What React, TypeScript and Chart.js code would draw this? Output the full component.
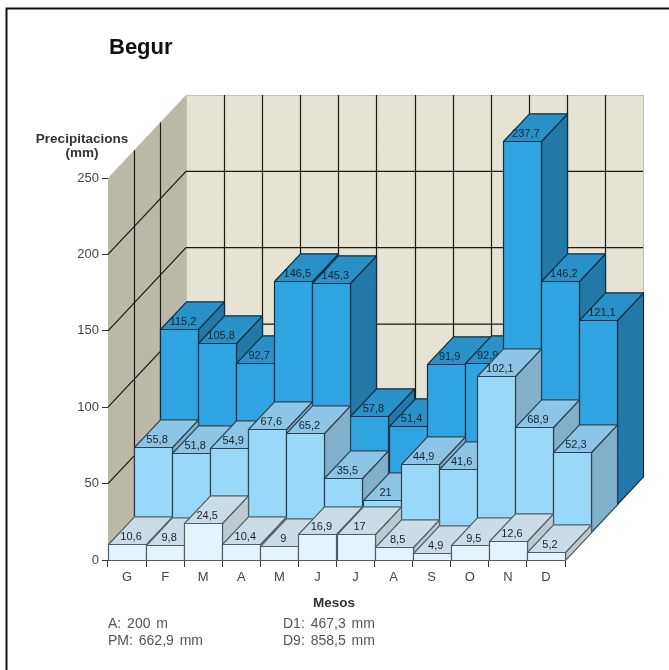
import React, { useEffect, useRef } from "react";
import { Chart, BarController, BarElement, registerables } from "chart.js";

// Monthly precipitation for Begur (mm): first decile, mean and ninth decile.
const months = ["G", "F", "M", "A", "M", "J", "J", "A", "S", "O", "N", "D"];
const decile1 = [10.6, 9.8, 24.5, 10.4, 9, 16.9, 17, 8.5, 4.9, 9.5, 12.6, 5.2];
const mean = [55.8, 51.8, 54.9, 67.6, 65.2, 35.5, 21, 44.9, 41.6, 102.1, 68.9, 52.3];
const decile9 = [115.2, 105.8, 92.7, 146.5, 145.3, 57.8, 51.4, 91.9, 92.9, 237.7, 146.2, 121.1];
const yTicks = { min: 0, max: 250, step: 50 };

// One depth row of the oblique projection, in canvas pixels.
const ROW_DX = 26;
const ROW_DY = 27.7;
const ROWS = 3;

const LABEL_FONT = '"Liberation Sans", Arial, sans-serif';
const crisp = (v: number) => Math.round(v) + 0.5;

// A bar element that paints a box: the front face plus top and right faces.
class Box3D extends BarElement {
  static id = "box3d";
  static defaults = { ...BarElement.defaults, row: 0, topColor: "#888", sideColor: "#666" };

  draw(ctx: CanvasRenderingContext2D) {
    const { x, y, base, width } = (this as any).getProps(["x", "y", "base", "width"]);
    const o = (this as any).options;
    const ox = o.row * ROW_DX;
    const oy = -o.row * ROW_DY;
    const l = crisp(x - width / 2 + ox);
    const r = crisp(x + width / 2 + ox);
    const t = crisp(y + oy);
    const b = crisp(base + oy);
    const face = (pts: number[][], fill: string) => {
      ctx.beginPath();
      pts.forEach(([px, py], i) => (i ? ctx.lineTo(px, py) : ctx.moveTo(px, py)));
      ctx.closePath();
      ctx.fillStyle = fill;
      ctx.fill();
      ctx.stroke();
    };
    ctx.save();
    ctx.strokeStyle = o.borderColor;
    ctx.lineWidth = 1.2;
    ctx.lineJoin = "round";
    face([[r, t], [r + ROW_DX, t - ROW_DY], [r + ROW_DX, b - ROW_DY], [r, b]], o.sideColor);
    face([[l, t], [l + ROW_DX, t - ROW_DY], [r + ROW_DX, t - ROW_DY], [r, t]], o.topColor);
    face([[l, t], [r, t], [r, b], [l, b]], o.backgroundColor);
    ctx.restore();
  }
}

class Bar3DController extends BarController {
  static id = "bar3d";
  static defaults = { ...BarController.defaults, dataElementType: "box3d" };
}

Chart.register(...registerables, Box3D, Bar3DController);

// Back and side walls with their grid, projected from the chart's own scales.
const wallsPlugin = {
  id: "walls",
  beforeDatasetsDraw(chart: any) {
    const { ctx, scales } = chart;
    const xs = scales.x;
    const ys = scales.y;
    const dx = ROW_DX * ROWS;
    const dy = ROW_DY * ROWS;
    const step = xs.getPixelForValue(1) - xs.getPixelForValue(0);
    const left = xs.getPixelForValue(0) - step / 2;
    const right = left + step * months.length;
    const top = ys.getPixelForValue(yTicks.max);
    const floor = ys.getPixelForValue(yTicks.min);
    ctx.save();
    ctx.fillStyle = "#BBB8A8";
    ctx.strokeStyle = "#A9A79B";
    ctx.lineWidth = 1;
    ctx.beginPath();
    ctx.moveTo(left, top);
    ctx.lineTo(left + dx, top - dy);
    ctx.lineTo(left + dx, floor - dy);
    ctx.lineTo(left, floor);
    ctx.closePath();
    ctx.fill();
    ctx.fillStyle = "#E6E3D3";
    ctx.strokeStyle = "#C4C2B4";
    ctx.fillRect(left + dx, top - dy, right - left, floor - top);
    ctx.strokeRect(crisp(left + dx), crisp(top - dy), right - left, floor - top);

    ctx.strokeStyle = "#1A1A16";
    ctx.lineWidth = 1.2;
    ctx.beginPath();
    for (const tick of ys.ticks) {
      if (tick.value === yTicks.min || tick.value === yTicks.max) continue;
      const py = ys.getPixelForValue(tick.value);
      ctx.moveTo(left, py);
      ctx.lineTo(left + dx, py - dy);
      ctx.lineTo(right + dx, py - dy);
    }
    for (let i = 1; i < months.length; i++) {
      const px = crisp(left + dx + step * i);
      ctx.moveTo(px, top - dy);
      ctx.lineTo(px, floor - dy);
    }
    for (let row = 1; row < ROWS; row++) {
      const px = crisp(left + ROW_DX * row);
      ctx.moveTo(px, top - ROW_DY * row);
      ctx.lineTo(px, floor - ROW_DY * row);
    }
    ctx.stroke();
    ctx.restore();
  },
  // Values sit on the top face of each box, painted with their own row.
  afterDatasetDraw(chart: any, args: any) {
    const { ctx } = chart;
    const dataset = chart.data.datasets[args.index];
    ctx.save();
    ctx.font = `11px ${LABEL_FONT}`;
    ctx.fillStyle = "#16242C";
    ctx.textAlign = "center";
    ctx.textBaseline = "middle";
    args.meta.data.forEach((bar: any, i: number) => {
      const text = String(dataset.data[i]).replace(".", ",");
      ctx.fillText(text, bar.x + dataset.row * ROW_DX + 4, bar.y - dataset.row * ROW_DY - 7);
    });
    ctx.restore();
  },
};

// Frame, title, axis captions and the station's summary notes.
const captionsPlugin = {
  id: "captions",
  afterDraw(chart: any) {
    const { ctx } = chart;
    ctx.save();
    ctx.strokeStyle = "#111";
    ctx.lineWidth = 2;
    ctx.beginPath();
    ctx.moveTo(6.5, 670);
    ctx.lineTo(6.5, 8.5);
    ctx.lineTo(669, 8.5);
    ctx.stroke();

    ctx.textBaseline = "middle";
    ctx.fillStyle = "#111";
    ctx.font = `bold 22px ${LABEL_FONT}`;
    ctx.fillText("Begur", 109, 48);

    ctx.fillStyle = "#333";
    ctx.font = `bold 13.5px ${LABEL_FONT}`;
    ctx.textAlign = "center";
    ctx.fillText("Precipitacions", 82, 139);
    ctx.fillText("(mm)", 82, 153);
    ctx.fillText("Mesos", 334, 603);

    ctx.fillStyle = "#555";
    ctx.font = `14px ${LABEL_FONT}`;
    ctx.textAlign = "left";
    (ctx as any).wordSpacing = "2px";
    ctx.fillText("A: 200 m", 108, 624);
    ctx.fillText("PM: 662,9 mm", 108, 641);
    ctx.fillText("D1: 467,3 mm", 283, 624);
    ctx.fillText("D9: 858,5 mm", 283, 641);
    ctx.restore();
  },
};

const series = [
  { label: "D1", data: decile1, row: 0, backgroundColor: "#E3F4FE", topColor: "#CCDCE6", sideColor: "#BFC9D0", borderColor: "#4F5F68" },
  { label: "PM", data: mean, row: 1, backgroundColor: "#99D8F8", topColor: "#8CC5E6", sideColor: "#80B0CC", borderColor: "#2C4452" },
  { label: "D9", data: decile9, row: 2, backgroundColor: "#2FA4E0", topColor: "#2A90C8", sideColor: "#2478A8", borderColor: "#0F2F44" },
];

export default function App() {
  const ref = useRef<HTMLCanvasElement>(null);

  useEffect(() => {
    const chart = new Chart(ref.current as HTMLCanvasElement, {
      type: "bar3d" as any,
      data: {
        labels: months,
        datasets: series.map((s) => ({
          ...s,
          clip: false,
          grouped: false,
          barPercentage: 1,
          categoryPercentage: 1,
        })) as any,
      },
      options: {
        animation: false,
        responsive: false,
        events: [],
        layout: { padding: { left: 78, top: 178, right: 104, bottom: 80 } },
        plugins: { legend: { display: false }, tooltip: { enabled: false }, title: { display: false } },
        scales: {
          x: {
            type: "category",
            offset: true,
            afterFit: (s: any) => { s.height = 30; },
            grid: { offset: true, drawOnChartArea: false, color: "#333", tickLength: 7 },
            border: { color: "#777" },
            ticks: { color: "#444", padding: 3, maxRotation: 0, autoSkip: false, font: { family: LABEL_FONT, size: 13 } },
          },
          y: {
            type: "linear",
            min: yTicks.min,
            max: yTicks.max,
            afterFit: (s: any) => { s.width = 30; },
            grid: { drawOnChartArea: false, color: "#333", tickLength: 6 },
            border: { display: false },
            ticks: { stepSize: yTicks.step, color: "#444", padding: 3, font: { family: LABEL_FONT, size: 13 } },
          },
        },
      } as any,
      plugins: [wallsPlugin, captionsPlugin],
    });
    return () => chart.destroy();
  }, []);

  return (
    <div style={{ position: "fixed", left: 0, top: 0, width: 669, height: 670, background: "#fff" }}>
      <canvas ref={ref} width={669} height={670} style={{ display: "block" }} />
    </div>
  );
}
